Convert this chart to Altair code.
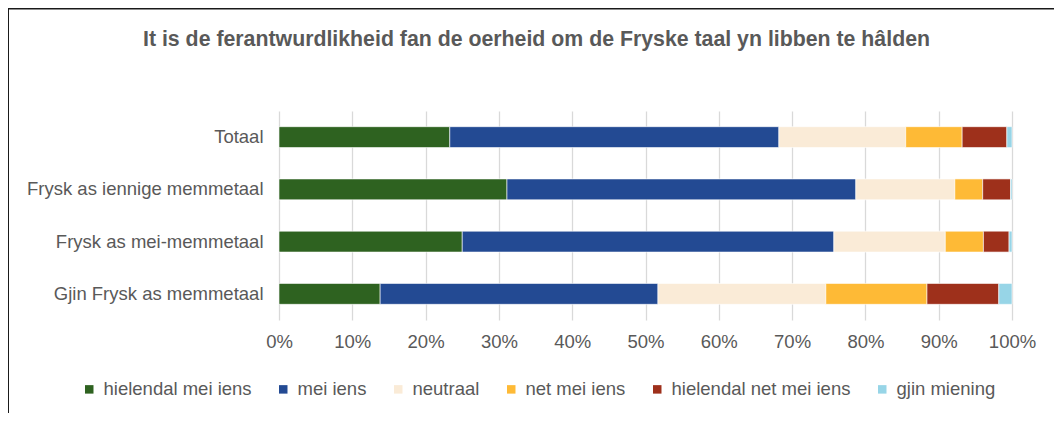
import altair as alt
import pandas as pd

# ---- data ----
categories = [
    "Totaal",
    "Frysk as iennige memmetaal",
    "Frysk as mei-memmetaal",
    "Gjin Frysk as memmetaal",
]
series = [
    "hielendal mei iens",
    "mei iens",
    "neutraal",
    "net mei iens",
    "hielendal net mei iens",
    "gjin miening",
]
colors = ["#2E6220", "#234A93", "#FAEBD7", "#FEBA36", "#9E301B", "#97D5E7"]

hielendal_mei_iens = [23.3, 31.1, 25.0, 13.8]
mei_iens = [44.9, 47.6, 50.7, 37.9]
neutraal = [17.3, 13.5, 15.2, 22.9]
net_mei_iens = [7.7, 3.8, 5.2, 13.8]
hielendal_net_mei_iens = [6.1, 3.8, 3.5, 9.8]
gjin_miening = [0.7, 0.2, 0.4, 1.8]

x_ticks = [0, 0.1, 0.2, 0.3, 0.4, 0.5, 0.6, 0.7, 0.8, 0.9, 1.0]

title_text = "It is de ferantwurdlikheid fan de oerheid om de Fryske taal yn libben te hâlden"

# ---- build table ----
all_values = [hielendal_mei_iens, mei_iens, neutraal, net_mei_iens,
              hielendal_net_mei_iens, gjin_miening]
rows = []
for si, (name, vals) in enumerate(zip(series, all_values)):
    for cat, v in zip(categories, vals):
        rows.append({"kategory": cat, "searje": name, "wearde": v / 100.0, "rang": si})
df = pd.DataFrame(rows)

FONT = "Liberation Sans"
GREY = "#595959"

bars = alt.Chart(df).mark_bar(stroke="white", strokeWidth=0.6).encode(
    y=alt.Y(
        "kategory:N",
        sort=categories,
        title=None,
        scale=alt.Scale(paddingInner=0.6, paddingOuter=0.3),
        axis=alt.Axis(
            labelFontSize=18.5, labelColor=GREY, labelFont=FONT,
            labelPadding=16, ticks=False, domain=False, labelLimit=400, grid=False,
        ),
    ),
    x=alt.X(
        "wearde:Q",
        stack="zero",
        title=None,
        scale=alt.Scale(domain=[0, 1], nice=False),
        axis=alt.Axis(
            values=x_ticks, format=".0%", labelFontSize=18.5, labelColor=GREY,
            labelFont=FONT, labelBaseline="alphabetic", labelPadding=27,
            ticks=False, domain=False, grid=True, gridColor="#D9D9D9",
            gridWidth=1.3, labelFlush=False, labelOverlap=False,
        ),
    ),
    color=alt.Color(
        "searje:N",
        sort=series,
        scale=alt.Scale(domain=series, range=colors),
        legend=alt.Legend(
            title=None, orient="none", direction="horizontal",
            legendX=-199, legendY=269, columns=6,
            symbolType="square", symbolSize=72, symbolStrokeWidth=0,
            labelFontSize=18.5, labelFont=FONT, labelColor=GREY,
            labelOffset=5, columnPadding=22, padding=0, labelLimit=400,
        ),
    ),
    order=alt.Order("rang:Q"),
)

frame_data = alt.Data(values=[{"k": 0}])
left_border = alt.Chart(frame_data).mark_rule(color="#1A1A1A", strokeWidth=2).encode(
    x=alt.value(-271), y=alt.value(-103), y2=alt.value(320)
)
top_border = alt.Chart(frame_data).mark_rule(color="#1A1A1A", strokeWidth=2).encode(
    x=alt.value(-272), x2=alt.value(800), y=alt.value(-102.5)
)

chart = alt.layer(bars, left_border, top_border).properties(
    width=733,
    height=209,
    autosize=alt.AutoSizeParams(type="none"),
    padding={"left": 271, "top": 103, "right": 42, "bottom": 93},
    title=alt.TitleParams(
        text=title_text, font=FONT, fontSize=21.3, fontWeight="bold",
        color=GREY, anchor="middle", frame="group", dx=-109, offset=0,
        baseline="alphabetic", dy=60,
    ),
).configure_view(stroke=None)

chart.save("out.html", embed_options={"renderer": "svg", "actions": False})
